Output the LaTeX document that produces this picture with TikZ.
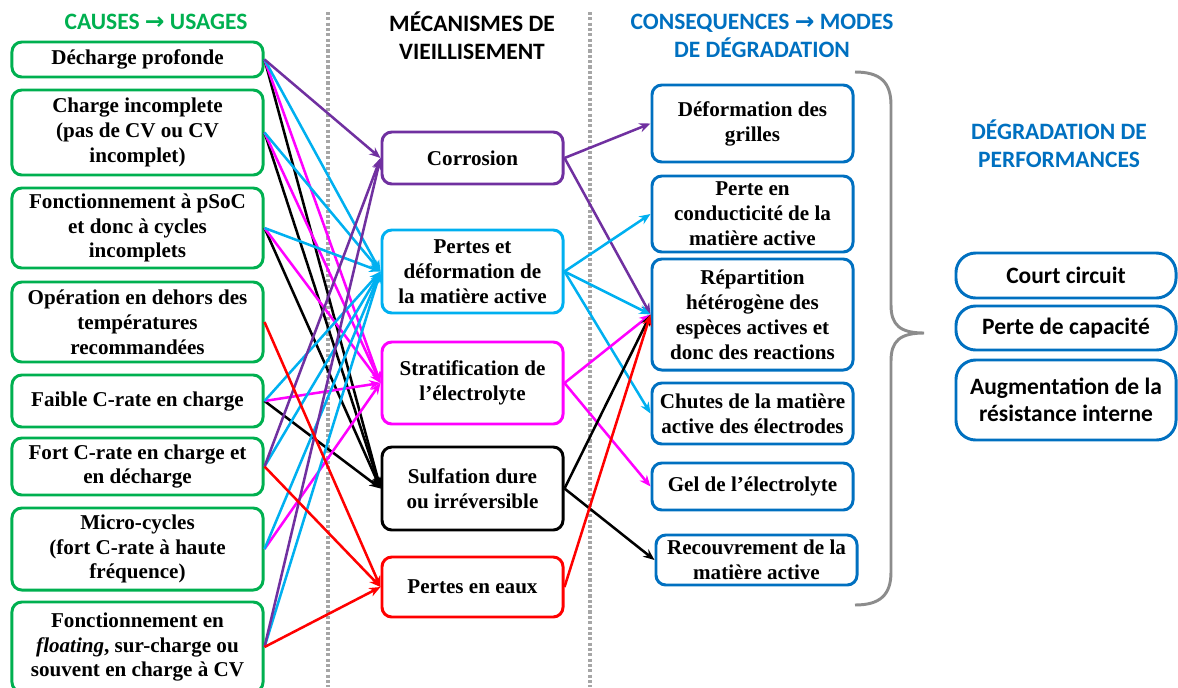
\documentclass[tikz,border=0pt]{standalone}
\usepackage{fontspec}
\setmainfont{Liberation Serif}
\newfontfamily\headfont{Carlito}
\newfontfamily\arrowfont{DejaVu Sans}
\usetikzlibrary{arrows.meta}
\definecolor{causegreen}{HTML}{00B050}
\definecolor{corrpurple}{HTML}{7030A0}
\definecolor{lightblue}{HTML}{00B0F0}
\definecolor{stratpink}{HTML}{FF00FF}
\definecolor{waterred}{HTML}{FF0000}
\definecolor{modeblue}{HTML}{0070C0}
\definecolor{bracegray}{HTML}{8C8C8C}
\definecolor{sepgray}{HTML}{A6A6A6}

\begin{document}
\begin{tikzpicture}[x=0.025cm, y=-0.025cm, line width=1.8pt,
    box/.style={draw, rounded corners=7pt, line width=2.1pt, fill=white, align=center,
        inner xsep=2pt, inner ysep=1pt, font=\fontsize{15}{17.7}\selectfont\bfseries},
    cause/.style={box, draw=causegreen, minimum width=6.275cm},
    mecha/.style={box, minimum width=4.525cm},
    mode/.style={box, draw=modeblue, minimum width=5.025cm},
    perf/.style={box, draw=modeblue, rounded corners=14pt, minimum width=5.5cm,
        font=\headfont\fontsize{16.7}{19.1}\selectfont\bfseries},
    head/.style={align=center, font=\headfont\fontsize{16.7}{19.9}\selectfont\bfseries},
    link/.style={-{Stealth[length=8pt, width=6.5pt]}, line width=1.8pt}]
        \useasboundingbox (0,0) rectangle (1178,687);
        \clip (0,0) rectangle (1178,687);

        \draw[sepgray, line width=2.4pt, dash pattern=on 2.2pt off 1.6pt] (328,12) -- (328,687);
        \draw[sepgray, line width=2.4pt, dash pattern=on 2.2pt off 1.6pt] (590,12) -- (590,687);

        \node[head, causegreen] (hcause) at (156,22) {CAUSES {\arrowfont →} USAGES};
        \node[head] (hmeca) at (472,36) {MÉCANISMES DE\\VIEILLISEMENT};
        \node[head, modeblue] (hcons) at (762,36) {CONSEQUENCES {\arrowfont →} MODES\\DE DÉGRADATION};
        \node[head, modeblue] (hperf) at (1059,144) {DÉGRADATION DE\\PERFORMANCES};

        \node[cause, minimum height=0.875cm] (dech) at (137.5,59.5) {Décharge profonde};
        \node[cause, minimum height=2.125cm] (chinc) at (137.5,132.5) {Charge incomplete\\(pas de CV ou CV\\incomplet)};
        \node[cause, minimum height=2cm] (psoc) at (137.5,228) {Fonctionnement à pSoC\\et donc à cycles\\incomplets};
        \node[cause, minimum height=2cm] (temp) at (137.5,322) {Opération en dehors des\\températures\\recommandées};
        \node[cause, minimum height=1.3cm] (faible) at (137.5,401) {Faible C-rate en charge};
        \node[cause, minimum height=1.425cm] (fort) at (137.5,466.5) {Fort C-rate en charge et\\en décharge};
        \node[cause, minimum height=2.05cm] (micro) at (137.5,549) {Micro-cycles\\(fort C-rate à haute\\fréquence)};
        \node[cause, minimum height=2.25cm] (float) at (137.5,647) {Fonctionnement en\\\textit{floating}, sur-charge ou\\souvent en charge à CV};

        \node[mecha, draw=corrpurple, minimum height=1.3cm] (corr) at (472.5,158) {Corrosion};
        \node[mecha, draw=lightblue, minimum height=2.075cm] (pertes) at (472.5,271.5) {Pertes et\\déformation de\\la matière active};
        \node[mecha, draw=stratpink, minimum height=2.05cm] (strat) at (472.5,383) {Stratification de\\l’électrolyte};
        \node[mecha, draw=black, minimum height=2.075cm] (sulf) at (472.5,488.5) {Sulfation dure\\ou irréversible};
        \node[mecha, draw=waterred, minimum height=1.5cm] (eaux) at (472.5,587) {Pertes en eaux};

        \node[mode, minimum height=1.925cm] (grilles) at (752.5,123.5) {Déformation des\\grilles};
        \node[mode, minimum height=1.9cm] (conduct) at (752.5,214) {Perte en\\conducticité de la\\matière active};
        \node[mode, minimum height=2.775cm] (repart) at (752.5,314.5) {Répartition\\hétérogène des\\espèces actives et\\donc des reactions};
        \node[mode, minimum height=1.525cm] (chutes) at (752.5,413.5) {Chutes de la matière\\active des électrodes};
        \node[mode, minimum height=1.175cm] (gel) at (752.5,486.5) {Gel de l’électrolyte};
        \node[mode, minimum height=1.25cm] (recouv) at (756.5,560) {Recouvrement de la\\matière active};

        \node[perf, minimum height=1.125cm] (court) at (1066,275.5) {Court circuit};
        \node[perf, minimum height=1.1cm] (capa) at (1066,328) {Perte de capacité};
        \node[perf, minimum height=2cm] (resist) at (1066,400) {Augmentation de la\\résistance interne};

        \draw[bracegray, line width=2.1pt] (855,72)
        .. controls (880,72) and (891,82) .. (891,105) -- (891,305)
        .. controls (891,325) and (900,333) .. (924,333)
        .. controls (900,333) and (891,341) .. (891,361) -- (891,572)
        .. controls (891,595) and (880,605) .. (855,605);

        \draw[link, black] (dech.east) -- (sulf.west);
        \draw[link, black] (chinc.east) -- (sulf.west);
        \draw[link, black] (psoc.east) -- (sulf.west);
        \draw[link, black] (faible.east) -- (sulf.west);
        \draw[link, stratpink] (dech.east) -- (strat.west);
        \draw[link, stratpink] (chinc.east) -- (strat.west);
        \draw[link, stratpink] (psoc.east) -- (strat.west);
        \draw[link, stratpink] (faible.east) -- (strat.west);
        \draw[link, stratpink] (micro.east) -- (strat.west);
        \draw[link, lightblue] (dech.east) -- (pertes.west);
        \draw[link, lightblue] (chinc.east) -- (pertes.west);
        \draw[link, lightblue] (psoc.east) -- (pertes.west);
        \draw[link, lightblue] (faible.east) -- (pertes.west);
        \draw[link, lightblue] (fort.east) -- (pertes.west);
        \draw[link, lightblue] (micro.east) -- (pertes.west);
        \draw[link, lightblue] (float.east) -- (pertes.west);
        \draw[link, corrpurple] (dech.east) -- (corr.west);
        \draw[link, corrpurple] (fort.east) -- (corr.west);
        \draw[link, corrpurple] (float.east) -- (corr.west);
        \draw[link, waterred] (temp.east) -- (eaux.west);
        \draw[link, waterred] (fort.east) -- (eaux.west);
        \draw[link, waterred] (float.east) -- (eaux.west);

        \draw[link, corrpurple] (corr.east) -- (grilles.west);
        \draw[link, corrpurple] (corr.east) -- (repart.west);
        \draw[link, lightblue] (pertes.east) -- (conduct.west);
        \draw[link, lightblue] (pertes.east) -- (repart.west);
        \draw[link, lightblue] (pertes.east) -- (chutes.west);
        \draw[link, stratpink] (strat.east) -- (repart.west);
        \draw[link, stratpink] (strat.east) -- (gel.west);
        \draw[link, black] (sulf.east) -- (repart.west);
        \draw[link, black] (sulf.east) -- (recouv.west);
        \draw[link, waterred] (eaux.east) -- (repart.west);
    \end{tikzpicture}
\end{document}
